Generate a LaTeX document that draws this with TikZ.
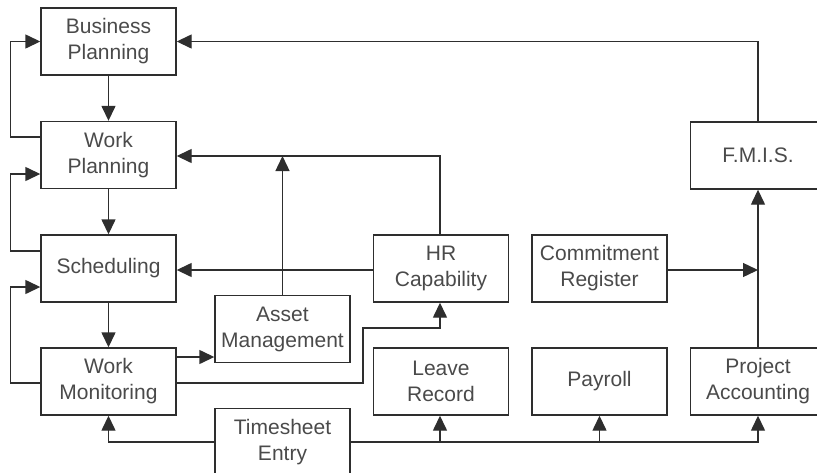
\documentclass[tikz,border=0pt]{standalone}
\usepackage{fontspec}
\setmainfont{Liberation Sans}
\usetikzlibrary{arrows.meta}
\definecolor{ink}{HTML}{2E2E2E}
\definecolor{txt}{HTML}{4A4A4A}
\begin{document}
\begin{tikzpicture}[x=1pt,y=-1pt,
  box/.style={draw=ink,line width=1.4pt,minimum width=135pt,minimum height=67pt,inner sep=0pt,
    align=center,text=txt,font=\fontsize{21}{26}\selectfont},
  arr/.style={draw=ink,line width=1.4pt,-{Triangle[length=15pt,width=14pt]}},
  ln/.style={draw=ink,line width=1.4pt}]
\useasboundingbox (0,0) rectangle (817,472);
\node[box] (BP) at (108.5,41.5) {Business\\Planning};
\node[box] (WP) at (108.5,155) {Work\\Planning};
\node[box] (Sch) at (108.5,268.5) {Scheduling};
\node[box] (WM) at (108.5,381.5) {Work\\Monitoring};
\node[box] (AM) at (282.5,329) {Asset\\Management};
\node[box] (TE) at (282.5,442) {Timesheet\\Entry};
\node[box] (HR) at (441,268.5) {HR\\Capability};
\node[box] (CR) at (599.5,268.5) {Commitment\\Register};
\node[box] (LR) at (441,381.5) {Leave\\Record};
\node[box] (PR) at (599.5,381.5) {Payroll};
\node[box] (PA) at (758,381.5) {Project\\Accounting};
\node[box] (FM) at (758,155.5) {F.M.I.S.};
\coordinate (k1) at (363,328);
\coordinate (wpin) at ([yshift=-1pt]WP.east);
\coordinate (amin) at ([yshift=24.5pt]WM.east);
\coordinate (crout) at ([yshift=-1.5pt]CR.east);
% left feedback loops
\draw[arr] ([yshift=18pt]WP.west) -- ++(-30,0) |- (BP.west);
\draw[arr] ([yshift=17.5pt]Sch.west) -- ++(-30,0) |- ([yshift=-19pt]WP.west);
\draw[arr] ([yshift=-1.5pt]WM.west) -- ++(-30,0) |- ([yshift=-18.5pt]Sch.west);
% downward chain
\draw[arr] (BP.south) -- (WP.north);
\draw[arr] (WP.south) -- (Sch.north);
\draw[arr] (Sch.south) -- (WM.north);
% F.M.I.S. to business planning
\draw[arr] (FM.north) |- (BP.east);
% HR capability to work planning
\draw[arr] ([xshift=-1pt]HR.north) |- (wpin);
\draw[arr] (AM.north) -- (AM.north |- wpin);
\draw[arr] ([yshift=-1.5pt]HR.west) -- ([yshift=-1.5pt]Sch.east);
% work monitoring outputs
\draw[arr] (amin) -- (AM.west |- amin);
\draw[arr] ([yshift=-1.5pt]WM.east) -| (k1) -| ([xshift=-1pt]HR.south);
% timesheet entry
\draw[arr] (TE.west) -| (WM.south);
\draw[arr] (TE.east) -| (PA.south);
\draw[arr] ([xshift=-1pt]LR.south |- TE.east) -- ([xshift=-1pt]LR.south);
\draw[arr] (PR.south |- TE.east) -- (PR.south);
% accounting
\draw[arr] (PA.north) -- (FM.south);
\draw[arr] (crout) -- (PA.north |- crout);
\end{tikzpicture}
\end{document}
